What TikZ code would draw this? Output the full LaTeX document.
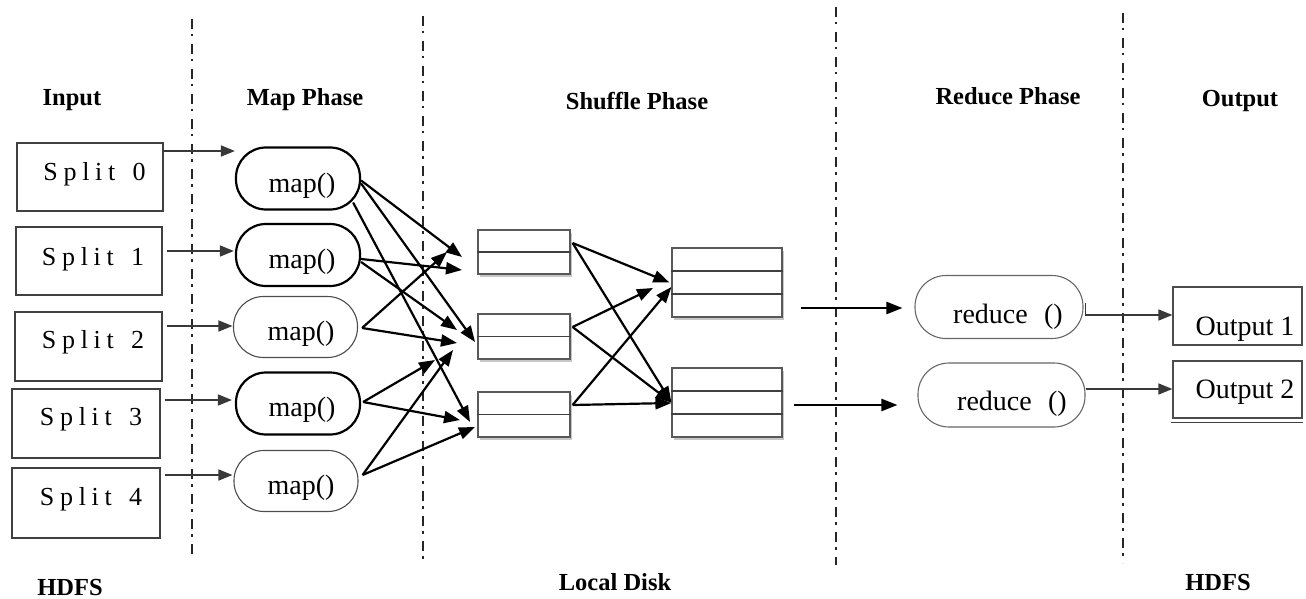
\documentclass[tikz,border=0pt]{standalone}
\usepackage{fontspec}
\setmainfont{Liberation Serif}
\usetikzlibrary{arrows.meta,calc,shadows}
\begin{document}
\begin{tikzpicture}[x=1pt,y=-1pt,
  phase/.style={line width=2pt,black!85,dash pattern=on 10pt off 5pt on 2.5pt off 7.5pt},
  hdr/.style={anchor=base,inner sep=0pt,font=\fontsize{24.5}{28}\selectfont\bfseries},
  splitbox/.style={draw=black!75,line width=1.2pt,minimum width=146pt,minimum height=68pt,inner sep=0pt},
  splittxt/.style={anchor=base,inner sep=0pt,font=\fontsize{26}{28}\selectfont\addfontfeature{LetterSpace=22}},
  rtxt/.style={anchor=base,inner sep=0pt,font=\fontsize{28}{30}\selectfont},
  mapthick/.style={draw=black,line width=2.2pt,rounded corners=30pt,minimum width=124pt,minimum height=62pt,inner sep=0pt},
  mapthin/.style={draw=black!70,line width=1.1pt,rounded corners=30pt,minimum width=124pt,minimum height=61pt,inner sep=0pt},
  redbox/.style={draw=black!60,line width=1.1pt,rounded corners=31pt,minimum width=168pt,minimum height=63pt,inner sep=0pt},
  outbox/.style={draw=black!70,line width=1.2pt,minimum width=129pt,minimum height=58pt,inner sep=0pt},
  shbox/.style={draw=black!65,fill=white,line width=1.2pt,inner sep=0pt,
    drop shadow={shadow xshift=2pt,shadow yshift=-3pt,fill=black!22,opacity=1}},
  inarrow/.style={draw=black!78,line width=1.6pt,-{Triangle[length=14pt,width=11pt]}},
  arr/.style={draw=black,line width=2.2pt,-{Triangle[length=16pt,width=12pt]}},
  plain/.style={draw=black!75,line width=1.2pt}
]
\useasboundingbox (0,0) rectangle (1306,599);

% phase separators
\draw[phase] (192,19) -- (192,558);
\draw[phase] (423,16) -- (423,565);
\draw[phase] (836,7) -- (836,565);
\draw[phase] (1123,13) -- (1123,563);

% headers
\node[hdr] (hin)  at (72,106)   {Input};
\node[hdr] (hmap) at (305,106)  {Map Phase};
\node[hdr] (hsh)  at (637,110)  {Shuffle Phase};
\node[hdr] (hred) at (1008,105) {Reduce Phase};
\node[hdr] (hout) at (1240,107) {Output};
\node[hdr] (fin)  at (70,595)   {HDFS};
\node[hdr] (fld)  at (615,590)  {Local Disk};
\node[hdr] (fout) at (1218,590) {HDFS};

% splits
\node[splitbox,minimum width=146pt] (s0) at (90,177) {};
\node[splitbox,minimum width=146pt] (s1) at (89,261) {};
\node[splitbox,minimum width=147pt,minimum height=69pt] (s2) at (88.5,346.5) {};
\node[splitbox,minimum width=148pt,minimum height=69pt] (s3) at (86,423.5) {};
\node[splitbox,minimum width=148pt,minimum height=70pt] (s4) at (86,503) {};
\node[splittxt] (ts0) at (94.5,180) {Split\hspace{5pt} 0};
\node[splittxt] (ts1) at (93,265) {Split\hspace{5pt} 1};
\node[splittxt] (ts2) at (93,348) {Split\hspace{5pt} 2};
\node[splittxt] (ts3) at (91,425) {Split\hspace{5pt} 3};
\node[splittxt] (ts4) at (91,505) {Split\hspace{5pt} 4};

% maps
\node[mapthick] (m0) at (298,178.5) {};
\node[mapthick] (m1) at (298,255) {};
\node[mapthin]  (m2) at (295.5,327) {};
\node[mapthick] (m3) at (298,403.5) {};
\node[mapthin]  (m4) at (296,481) {};
\node[rtxt] (tm0) at (302,192) {map()};
\node[rtxt] (tm1) at (302,268) {map()};
\node[rtxt] (tm2) at (301,340) {map()};
\node[rtxt] (tm3) at (302,416) {map()};
\node[rtxt] (tm4) at (301,494) {map()};

% input arrows
\draw[inarrow] (s0.east |- 0,151) -- (m0.west |- 0,151);
\draw[inarrow] ($(s1.east)+(4,-10)$) -- ($(m1.west)+(-1,-4)$);
\draw[inarrow] ($(s2.east)+(4,-20.5)$) -- ($(m2.west)+(-0.5,-1)$);
\draw[inarrow] ($(s3.east)+(4,-23.5)$) -- ($(m3.west)+(-3,-3.5)$);
\draw[inarrow] ($(s4.east)+(4,-28)$) -- ($(m4.west)+(-1,-6)$);

% shuffle boxes (left)
\node[shbox,minimum width=92pt,minimum height=44pt] (A) at (524,252) {};
\node[shbox,minimum width=92pt,minimum height=45pt] (B) at (524,336.5) {};
\node[shbox,minimum width=92pt,minimum height=45pt] (C) at (524,414.5) {};
\draw[plain] (A.west) -- (A.east);
\draw[plain] (B.west) -- (B.east);
\draw[plain] (C.west) -- (C.east);

% shuffle boxes (right)
\node[shbox,minimum width=110pt,minimum height=69pt] (D) at (727,282.5) {};
\node[shbox,minimum width=110pt,minimum height=69pt] (E) at (727,402.5) {};
\draw[plain] (D.west |- 0,271) -- (D.east |- 0,271);
\draw[plain] (D.west |- 0,294) -- (D.east |- 0,294);
\draw[plain] (E.west |- 0,391) -- (E.east |- 0,391);
\draw[plain] (E.west |- 0,414) -- (E.east |- 0,414);

% map -> shuffle arrows
\coordinate (pA1) at (462,257);
\coordinate (pA2) at (462,270);
\coordinate (pA3) at (447,252);
\coordinate (pB1) at (475,342);
\coordinate (pB2) at (457,330);
\coordinate (pB3) at (457,343);
\coordinate (pB4) at (435,360);
\coordinate (pB5) at (453,350);
\coordinate (pC1) at (470,422);
\coordinate (pC2) at (460,420);
\coordinate (pC3) at (475,427);
\draw[arr] ($(m0.east)+(0,2)$) -- (pA1);
\draw[arr] ($(m0.east)+(0,5)$) -- (pB1);
\draw[arr] ($(m0.east)+(-8,24)$) -- (pC1);
\draw[arr] ($(m1.east)+(0,4)$) -- (pA2);
\draw[arr] ($(m1.east)+(0,7)$) -- (pB2);
\draw[arr] ($(m2.east)+(4,1)$) -- (pA3);
\draw[arr] ($(m2.east)+(4,1)$) -- (pB3);
\draw[arr] ($(m3.east)+(2,-1.5)$) -- (pB4);
\draw[arr] ($(m3.east)+(2,-1.5)$) -- (pC2);
\draw[arr] ($(m4.east)+(4,-6)$) -- (pB5);
\draw[arr] ($(m4.east)+(4,-6)$) -- (pC3);

% shuffle -> shuffle arrows
\coordinate (pD2) at (653,288);
\draw[arr] ($(A.east)+(2,-9)$) -- ($(D.west)+(-2,0)$);
\draw[arr] ($(A.east)+(2,-9)$) -- (E.west);
\draw[arr] ($(B.east)+(2,-9.5)$) -- (pD2);
\draw[arr] ($(B.east)+(2,-9.5)$) -- (E.west);
\draw[arr] ($(C.east)+(2,-9.5)$) -- ($(D.west)+(0,4.5)$);
\draw[arr] ($(C.east)+(2,-9.5)$) -- ($(E.west)+(0,0.5)$);

% reduce
\node[redbox] (r1) at (999,307) {};
\node[redbox,minimum width=167pt,minimum height=64pt] (r2) at (1001.5,395) {};
\node[rtxt] (tr1) at (1008,323) {reduce\,\, ()};
\node[rtxt] (tr2) at (1012,410) {reduce\,\, ()};
\draw[arr] ($(D.east)+(18,25.5)$) -- ($(r1.west)+(-12,1)$);
\draw[arr] ($(E.east)+(11,2.5)$) -- ($(r2.west)+(-20,10)$);

% outputs
\node[outbox] (o1) at (1237.5,316) {};
\node[outbox,minimum height=57pt] (o2) at (1237.5,389.5) {};
\draw[plain] ($(o2.south west)+(-1,4)$) -- ($(o2.south east)+(0,4)$);
\node[rtxt] (to1) at (1245,335) {Output 1};
\node[rtxt] (to2) at (1245,398) {Output 2};
\draw[inarrow] ($(r1.east)+(2,-4)$) -- ($(r1.east)+(2,8)$) -- (o1.west |- 0,315);
\draw[inarrow] ($(r2.east)+(0,-6)$) -- (o2.west |- 0,389);
\end{tikzpicture}
\end{document}
